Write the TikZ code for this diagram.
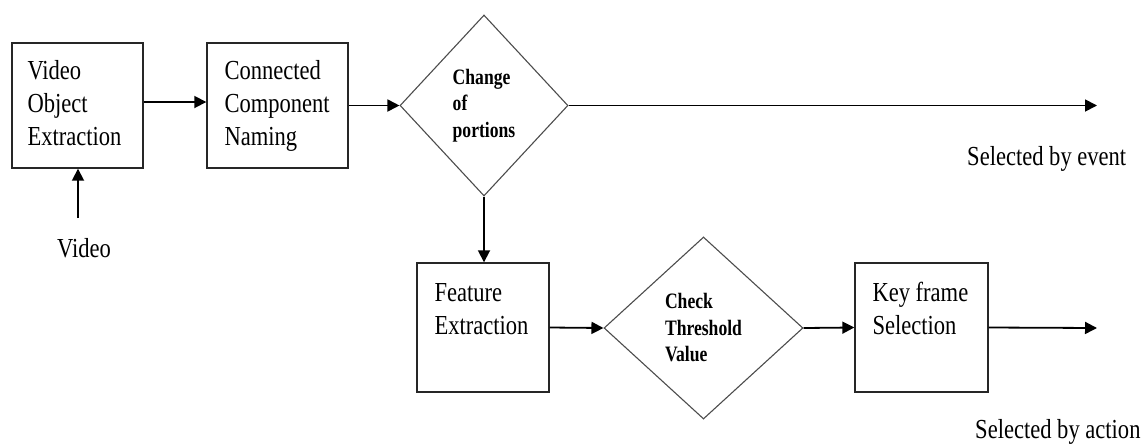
\documentclass[tikz,border=0pt]{standalone}
\usepackage{fontspec}
\setmainfont{Liberation Serif}
\newfontfamily\boxfont[FakeStretch=0.82]{Liberation Serif}
\newfontfamily\dmfont[FakeStretch=0.8]{Liberation Serif}
\usetikzlibrary{shapes.geometric,arrows.meta}
\tikzset{
  box/.style={draw=black!85, line width=1.4pt, rectangle, inner sep=0pt},
  dmd/.style={draw=black!70, line width=1.1pt, diamond, inner sep=0pt, aspect=1,
     align=left, font=\dmfont\bfseries\fontsize{22}{26.5}\selectfont},
  txt/.style={inner sep=0pt, font=\boxfont\fontsize{27.5}{33}\selectfont},
  arr/.style={line width=1.8pt, -{Triangle[length=12pt,width=12pt]}},
}
\begin{document}
\begin{tikzpicture}[x=1pt,y=-1pt]
\useasboundingbox (0,0) rectangle (1145,445);
% boxes
\node[box, minimum width=131pt, minimum height=125pt] (voe) at (77.5,105.5) {};
\node[box, minimum width=141pt, minimum height=125pt] (ccn) at (277.5,105.5) {};
\node[box, minimum width=132pt, minimum height=129pt] (fe) at (483,327.5) {};
\node[box, minimum width=133pt, minimum height=129pt] (kfs) at (921.5,327.5) {};
% diamonds
\node[dmd, minimum width=168pt, minimum height=181pt] (cop) at (484,105.5) {Change\\of\\portions};
\node[dmd, minimum width=199pt, minimum height=182pt] (ctv) at (703.5,328) {Check\\Threshold\\Value};
% box texts
\node[txt, anchor=base west] (t1) at ([shift={(16,37)}]voe.north west) {\begin{tabular}[t]{@{}l@{}}Video\\Object\\Extraction\end{tabular}};
\node[txt, anchor=base west] (t2) at ([shift={(18,37)}]ccn.north west) {\begin{tabular}[t]{@{}l@{}}Connected\\Component\\Naming\end{tabular}};
\node[txt, anchor=base west] (t3) at ([shift={(18,39)}]fe.north west) {\begin{tabular}[t]{@{}l@{}}Feature\\Extraction\end{tabular}};
\node[txt, anchor=base west] (t4) at ([shift={(18,39)}]kfs.north west) {\begin{tabular}[t]{@{}l@{}}Key frame\\Selection\end{tabular}};
% free labels
\node[txt, anchor=base west] (video) at (57,257) {Video};
\node[txt, anchor=base west] (sbe) at (967,165) {Selected by event};
\node[txt, anchor=base west] (sba) at (975,438) {Selected by action};
% free ends
\coordinate (vin) at (78,218);
\coordinate (e1) at (1097,105.5);
\coordinate (e2) at (1097,328);
% connectors
\draw[arr] (vin) -- (voe.south -| vin);
\draw[arr] ([yshift=3.5pt]voe.east) -- ([yshift=3.5pt]ccn.west);
\draw[arr] (ccn.east) -- (cop.west);
\draw[arr] (cop.east) -- (e1);
\draw[arr] (cop.south) -- (cop.south |- fe.north);
\draw[arr] (fe.east) -- (ctv.west);
\draw[arr] (ctv.east) -- (kfs.west);
\draw[arr] (kfs.east) -- (e2);
\end{tikzpicture}
\end{document}
